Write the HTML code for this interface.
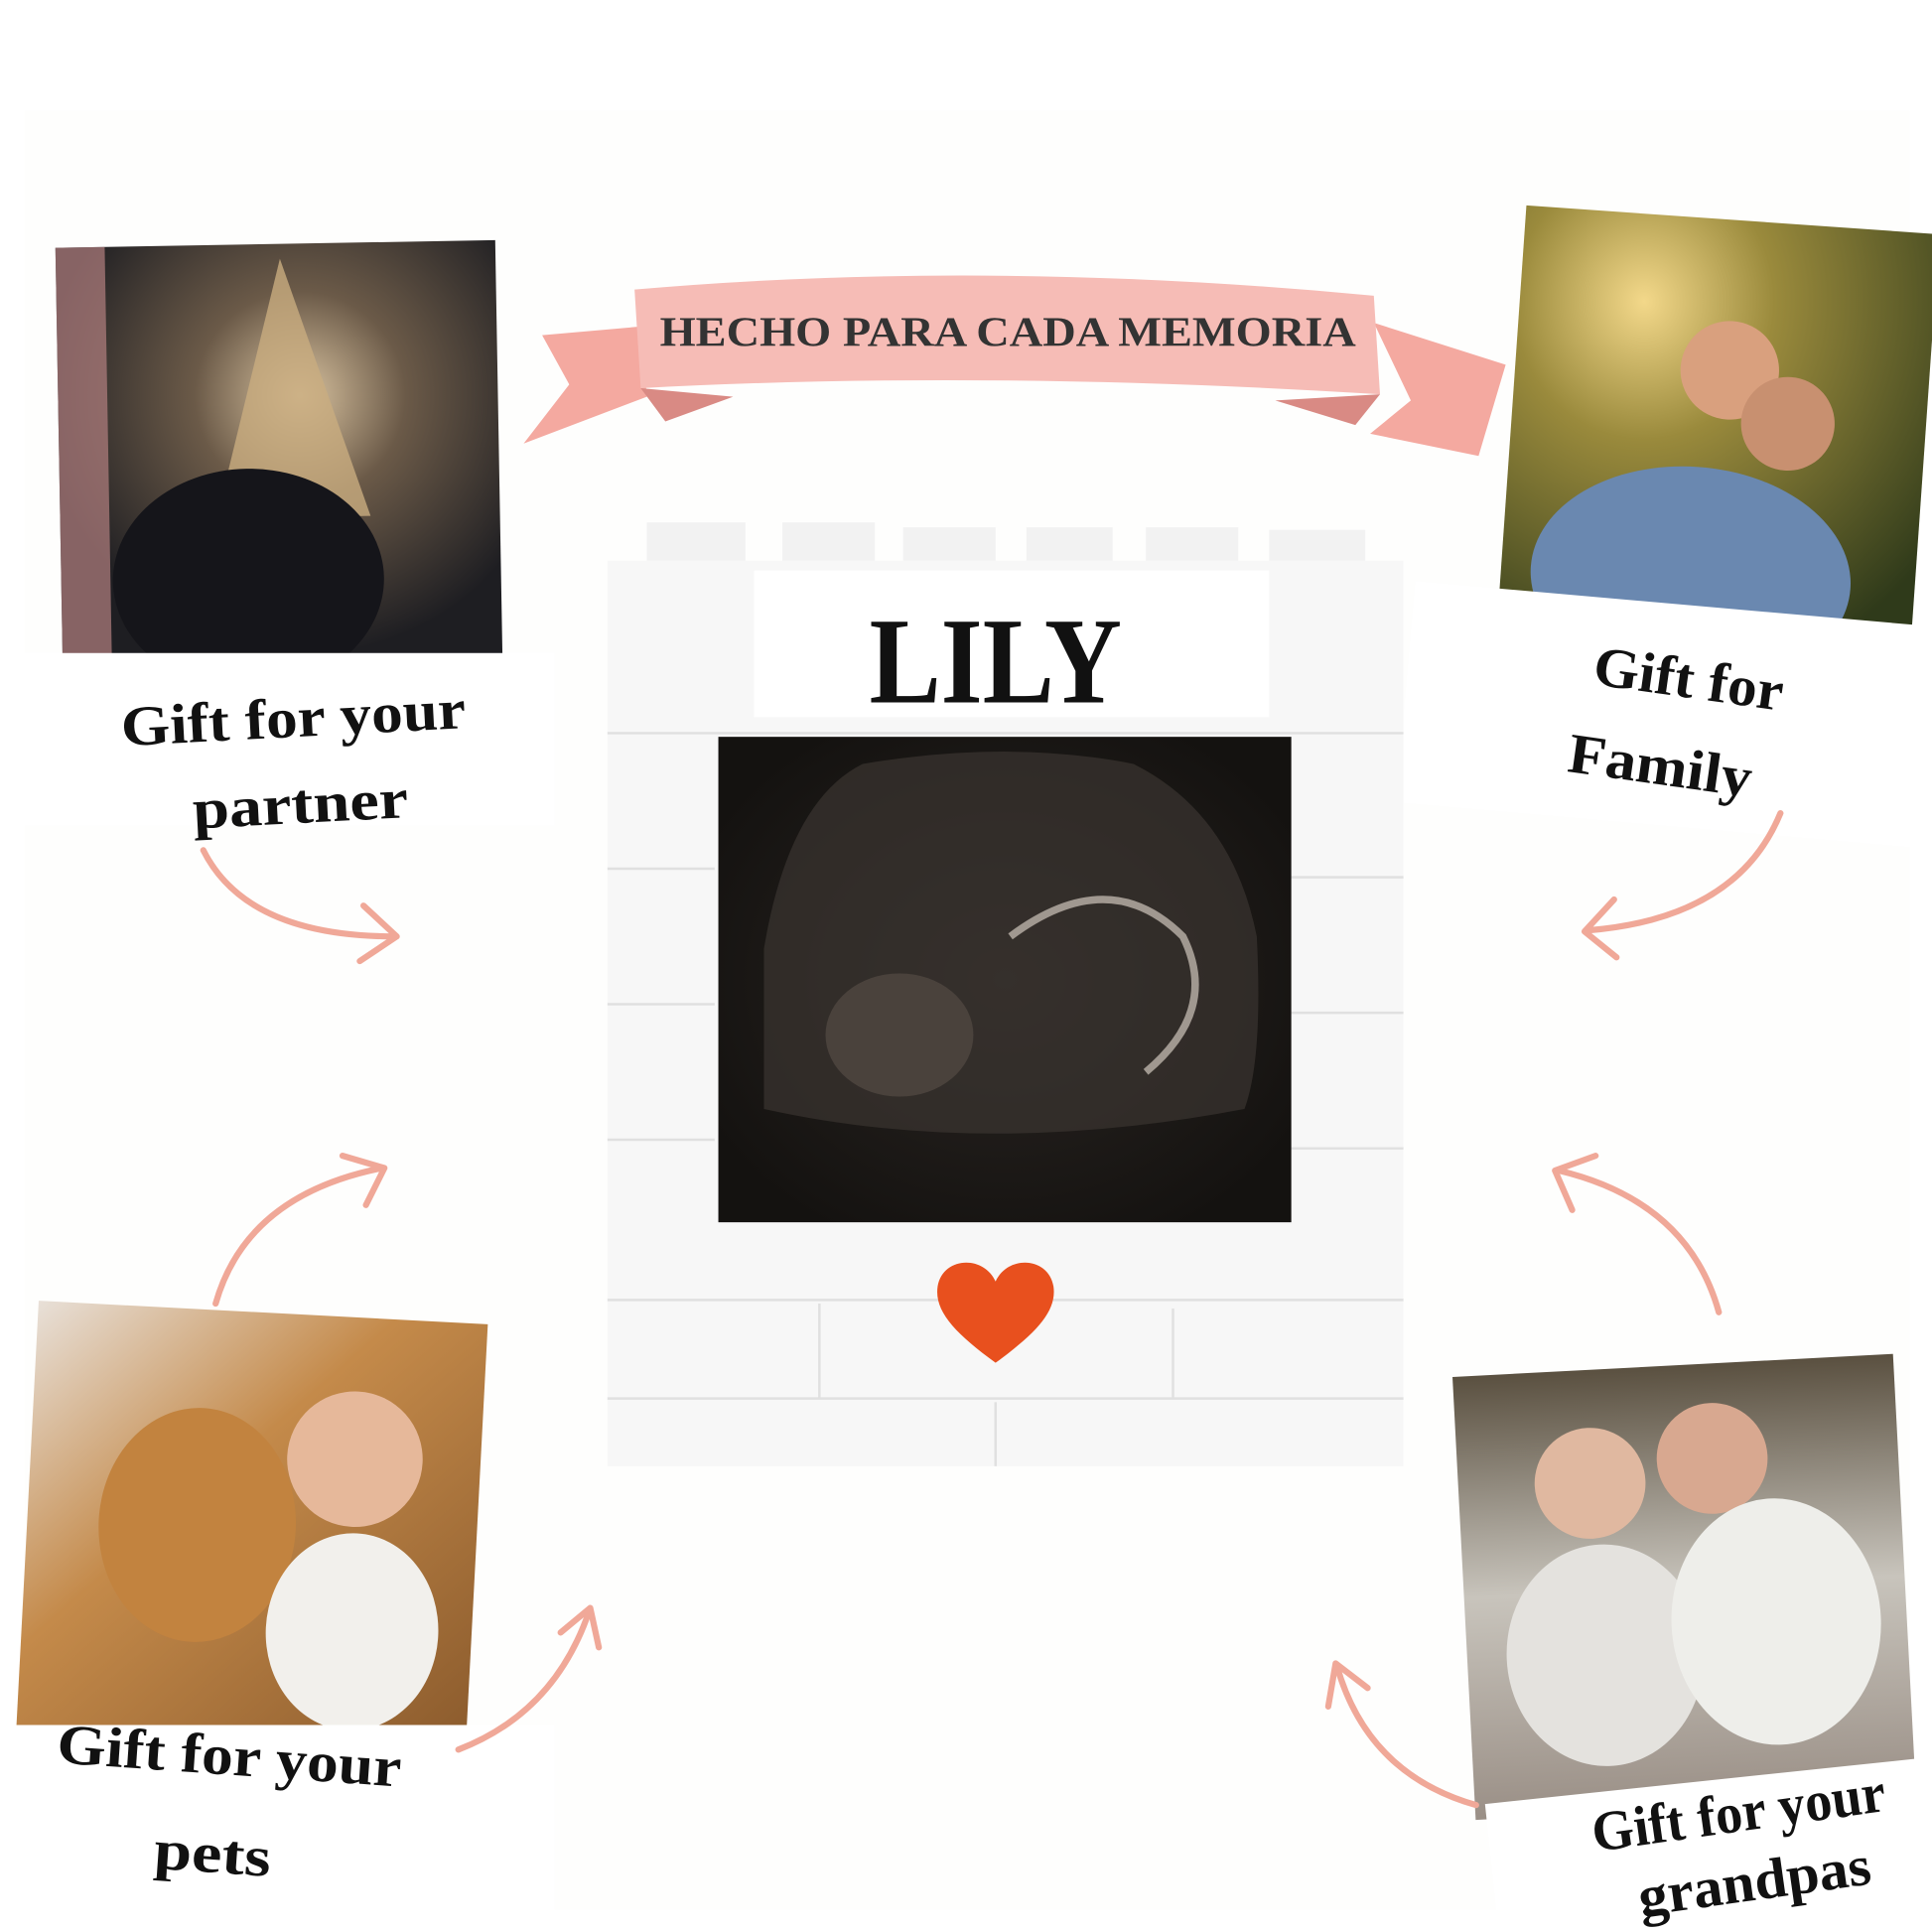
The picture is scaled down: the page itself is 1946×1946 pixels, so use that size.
<!DOCTYPE html>
<html><head><meta charset="utf-8"><style>
html,body{margin:0;padding:0;background:#fff;}
svg{display:block;}
.lbl{font-family:"Liberation Serif",serif;font-weight:bold;font-size:46px;fill:#111;}
</style></head><body>
<svg width="1946" height="1946" viewBox="0 0 1568 1568" xmlns="http://www.w3.org/2000/svg">
<defs>
<radialGradient id="fam" cx="0.3" cy="0.2" r="0.9"><stop offset="0" stop-color="#f3d88a"/><stop offset="0.35" stop-color="#9a8a3c"/><stop offset="1" stop-color="#2f3a1a"/></radialGradient>
<radialGradient id="night" cx="0.55" cy="0.35" r="0.6"><stop offset="0" stop-color="#d9c3a0"/><stop offset="0.4" stop-color="#6b5a48"/><stop offset="1" stop-color="#1e1e22"/></radialGradient>
<linearGradient id="pet" x1="0" y1="0" x2="1" y2="1"><stop offset="0" stop-color="#e8e0d8"/><stop offset="0.4" stop-color="#c48a4a"/><stop offset="1" stop-color="#8a5a2c"/></linearGradient>
<linearGradient id="gp" x1="0" y1="0" x2="0" y2="1"><stop offset="0" stop-color="#5a5040"/><stop offset="0.5" stop-color="#c8c4bc"/><stop offset="1" stop-color="#9a8f86"/></linearGradient>
<radialGradient id="us" cx="0.5" cy="0.5" r="0.6"><stop offset="0" stop-color="#2a2522"/><stop offset="1" stop-color="#141210"/></radialGradient>
</defs>
<rect width="1568" height="1568" fill="#fff"/>
<rect x="20" y="90" width="1530" height="1460" fill="#fefefd"/>

<polygon points="520,265 440,272 462,312 425,360 525,322" fill="#f4a9a0"/>
<polygon points="1115,262 1222,296 1200,370 1112,352 1145,325" fill="#f4a9a0"/>
<path d="M515,235 Q800,210 1115,240 L1120,320 Q800,300 520,315 Z" fill="#f6bcb6"/>
<path d="M520,315 L595,322 L540,342 Z" fill="#d98a84"/>
<path d="M1120,320 L1035,325 L1100,345 Z" fill="#d98a84"/>
<text x="818" y="281" text-anchor="middle" font-family="Liberation Serif,serif" font-weight="bold" font-size="34" fill="#333" textLength="565" lengthAdjust="spacingAndGlyphs">HECHO PARA CADA MEMORIA</text>

<g transform="rotate(-1 226 374)">
<rect x="48" y="198" width="357" height="352" fill="url(#night)"/>
<polygon points="230,210 175,420 300,420" fill="#c9ad80" opacity="0.8"/>
<rect x="48" y="198" width="40" height="352" fill="#b38080" opacity="0.7"/>
<ellipse cx="200" cy="470" rx="110" ry="90" fill="#15151a"/>
</g>
<rect x="0" y="530" width="450" height="140" fill="#fff"/>
<g transform="rotate(-3 240 620)">
<text class="lbl" x="240" y="598" text-anchor="middle" textLength="280" lengthAdjust="spacingAndGlyphs">Gift for your</text>
<text class="lbl" x="242" y="668" text-anchor="middle" textLength="175" lengthAdjust="spacingAndGlyphs">partner</text>
</g>

<g transform="rotate(4 1394 356)">
<rect x="1226" y="178" width="336" height="356" fill="url(#fam)"/>
<ellipse cx="1380" cy="470" rx="130" ry="90" fill="#6a88b0"/>
<circle cx="1400" cy="300" r="40" fill="#d9a07e"/>
<circle cx="1450" cy="340" r="38" fill="#c89070"/>
</g>
<rect x="1140" y="490" width="428" height="180" fill="#fff" transform="rotate(5 1354 580)"/>
<g transform="rotate(8 1360 590)">
<text class="lbl" x="1365" y="565" text-anchor="middle" textLength="155" lengthAdjust="spacingAndGlyphs">Gift for</text>
<text class="lbl" x="1352" y="638" text-anchor="middle" textLength="150" lengthAdjust="spacingAndGlyphs">Family</text>
</g>

<g>
<rect x="525" y="424" width="80" height="32" fill="#f2f2f2"/>
<rect x="635" y="424" width="75" height="32" fill="#f2f2f2"/>
<rect x="733" y="428" width="75" height="28" fill="#f2f2f2"/>
<rect x="833" y="428" width="70" height="28" fill="#f2f2f2"/>
<rect x="930" y="428" width="75" height="28" fill="#f2f2f2"/>
<rect x="1030" y="430" width="78" height="26" fill="#f2f2f2"/>
<rect x="493" y="455" width="646" height="735" fill="#f7f7f7"/>
<g stroke="#e0e0e0" stroke-width="2">
<line x1="493" y1="595" x2="1139" y2="595"/><line x1="493" y1="705" x2="580" y2="705"/><line x1="1048" y1="712" x2="1139" y2="712"/>
<line x1="493" y1="815" x2="580" y2="815"/><line x1="1048" y1="822" x2="1139" y2="822"/>
<line x1="493" y1="925" x2="580" y2="925"/><line x1="1048" y1="932" x2="1139" y2="932"/>
<line x1="493" y1="1055" x2="1139" y2="1055"/><line x1="493" y1="1135" x2="1139" y2="1135"/>
<line x1="665" y1="1058" x2="665" y2="1135"/><line x1="952" y1="1062" x2="952" y2="1135"/><line x1="808" y1="1138" x2="808" y2="1190"/>
</g>
<rect x="612" y="463" width="418" height="119" fill="#fff"/>
<text x="808" y="570" text-anchor="middle" font-family="Liberation Serif,serif" font-weight="bold" font-size="100" fill="#111" textLength="205" lengthAdjust="spacingAndGlyphs">LILY</text>
<rect x="583" y="598" width="465" height="394" fill="url(#us)"/>
<path d="M620,770 Q640,650 700,620 Q820,600 920,620 Q1000,660 1020,760 Q1025,860 1010,900 Q800,940 620,900 Z" fill="#3a3430" opacity="0.7"/>
<ellipse cx="730" cy="840" rx="60" ry="50" fill="#4a423c"/>
<path d="M820,760 Q900,700 960,760 Q990,820 930,870" stroke="#a09890" stroke-width="6" fill="none"/>
<path d="M808,1106 C775,1082 758,1064 761,1044 C765,1020 798,1018 808,1040 C818,1018 851,1020 855,1044 C858,1064 841,1082 808,1106 Z" fill="#e8501e"/>
</g>

<g transform="rotate(3 205 1240)">
<rect x="22" y="1065" width="365" height="352" fill="url(#pet)"/>
<circle cx="285" cy="1180" r="55" fill="#e6b89a"/>
<ellipse cx="160" cy="1240" rx="80" ry="95" fill="#c2833f"/>
<ellipse cx="290" cy="1320" rx="70" ry="80" fill="#f2f0ec"/>
</g>
<rect x="0" y="1400" width="450" height="168" fill="#fff"/>
<g transform="rotate(4 180 1470)">
<text class="lbl" x="183" y="1440" text-anchor="middle" textLength="280" lengthAdjust="spacingAndGlyphs">Gift for your</text>
<text class="lbl" x="175" y="1520" text-anchor="middle" textLength="95" lengthAdjust="spacingAndGlyphs">pets</text>
</g>

<g transform="rotate(-3 1366 1288)">
<rect x="1188" y="1108" width="358" height="360" fill="url(#gp)"/>
<circle cx="1295" cy="1200" r="45" fill="#e0b8a0"/>
<circle cx="1395" cy="1185" r="45" fill="#d8a890"/>
<ellipse cx="1300" cy="1340" rx="80" ry="90" fill="#e4e2de"/>
<ellipse cx="1440" cy="1320" rx="85" ry="100" fill="#eeeeea"/>
</g>
<rect x="1210" y="1445" width="358" height="128" fill="#fff" transform="rotate(-6 1390 1500)"/>
<g transform="rotate(-8 1415 1500)">
<text class="lbl" x="1415" y="1486" text-anchor="middle" textLength="240" lengthAdjust="spacingAndGlyphs">Gift for your</text>
<text class="lbl" x="1420" y="1543" text-anchor="middle" textLength="190" lengthAdjust="spacingAndGlyphs">grandpas</text>
</g>

<g stroke="#f0a898" stroke-width="5" fill="none" stroke-linecap="round" stroke-linejoin="round">
<path d="M165,690 Q200,760 320,760"/><path d="M295,735 L322,760 L292,780"/>
<path d="M1445,660 Q1410,745 1290,755"/><path d="M1310,730 L1286,756 L1312,777"/>
<path d="M175,1058 Q200,970 310,948"/><path d="M278,938 L312,948 L297,978"/>
<path d="M1395,1065 Q1370,975 1265,950"/><path d="M1295,938 L1262,950 L1276,982"/>
<path d="M372,1420 Q450,1390 478,1308"/><path d="M455,1325 L479,1305 L486,1337"/>
<path d="M1198,1465 Q1110,1440 1085,1352"/><path d="M1078,1385 L1084,1350 L1110,1370"/>
</g>
</svg>
</body></html>
